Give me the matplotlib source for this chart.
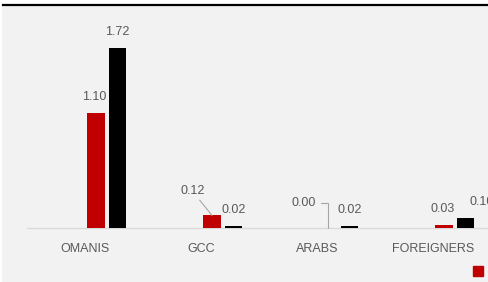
import matplotlib
matplotlib.use("Agg")
import matplotlib.pyplot as plt
from matplotlib.patches import Rectangle
from matplotlib.lines import Line2D
import numpy as np

categories = ["OMANIS", "GCC", "ARABS", "FOREIGNERS"]
red_vals = [1.10, 0.12, 0.00, 0.03]
black_vals = [1.72, 0.02, 0.02, 0.10]
series_names = ["2022", "2023"]

W, H = 489, 282
plt.rcParams['font.family'] = ['Liberation Sans', 'DejaVu Sans']
txt = '#595959'

fig = plt.figure(figsize=(W / 100, H / 100), dpi=100, facecolor='white')
# grey panel and black top rule
fig.patches.append(Rectangle((2 / W, 0), 1, 1 - 6 / H, transform=fig.transFigure,
                             facecolor='#f2f2f2', edgecolor='none', zorder=-10))
fig.lines.append(Line2D([3 / W, 1], [1 - 5 / H, 1 - 5 / H], transform=fig.transFigure,
                        color='black', linewidth=1.6, zorder=-5))

# axes: x from 27px to 491px, baseline at 228px, 104.7 px per unit
ax = fig.add_axes([27 / W, 54 / H, 464 / W, 209.4 / H])
ax.set_zorder(1)
ax.set_facecolor('none')
ax.set_xlim(-0.5, 3.5)
ax.set_ylim(0, 2)

x = np.arange(len(categories))
ax.bar(x + 0.095, red_vals, width=0.155, color='#c00000', zorder=3)
ax.bar(x + 0.28, black_vals, width=0.147, color='black', zorder=3)

for s in ['top', 'left', 'right']:
    ax.spines[s].set_visible(False)
ax.spines['bottom'].set_color('#d9d9d9')
ax.spines['bottom'].set_linewidth(0.9)
ax.set_yticks([])
ax.set_xticks(x)
ax.set_xticklabels(categories, color=txt, fontsize=9)
ax.tick_params(axis='x', length=0, pad=10.5)

fs = 9
# red labels
for i, v in enumerate(red_vals):
    xi = x[i] + 0.095
    if categories[i] == 'GCC':
        ax.annotate(f"{v:.2f}", xy=(xi, v), xytext=(-14, 13), textcoords='offset points',
                    ha='center', va='bottom', color=txt, fontsize=fs,
                    arrowprops=dict(arrowstyle='-', color='#a6a6a6', lw=0.8,
                                    shrinkA=0, shrinkB=0))
    elif categories[i] == 'ARABS':
        ax.annotate(f"{v:.2f}", xy=(xi, v), xytext=(-9, 18), textcoords='offset points',
                    ha='right', va='center', color=txt, fontsize=fs,
                    arrowprops=dict(arrowstyle='-', color='#a6a6a6', lw=0.8,
                                    shrinkA=2, shrinkB=0,
                                    connectionstyle='angle,angleA=0,angleB=90,rad=0'))
    else:
        ax.annotate(f"{v:.2f}", xy=(xi, v), xytext=(-1, 7), textcoords='offset points',
                    ha='center', va='bottom', color=txt, fontsize=fs)

# black labels
for i, v in enumerate(black_vals):
    xi = x[i] + 0.28
    dx = 12 if categories[i] == 'FOREIGNERS' else 0
    ax.annotate(f"{v:.2f}", xy=(xi, v), xytext=(dx, 7), textcoords='offset points',
                ha='center', va='bottom', color=txt, fontsize=fs)

handles = [Rectangle((0, 0), 1, 1, color='#c00000'), Rectangle((0, 0), 1, 1, color='black')]
fig.legend(handles, series_names, loc='upper left', bbox_to_anchor=(473 / W, 1 - 266 / H),
           ncol=2, frameon=False, fontsize=fs, handlelength=0.8, handleheight=0.8,
           borderpad=0, borderaxespad=0, handletextpad=0.4, labelcolor=txt)

fig.savefig('out.png', dpi=100, facecolor=fig.get_facecolor())
